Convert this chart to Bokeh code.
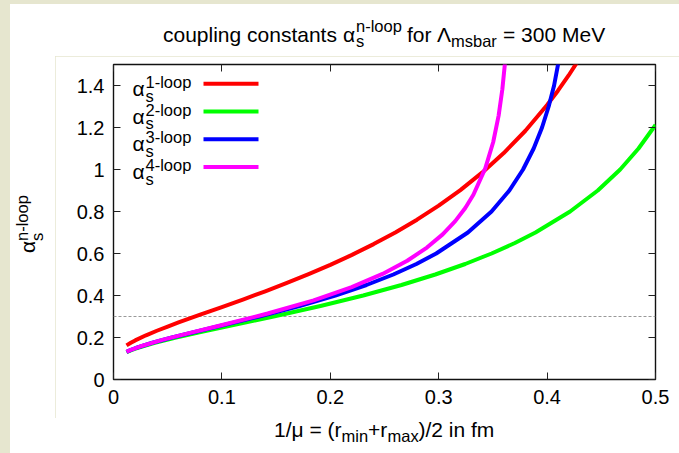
import math
from bokeh.plotting import figure
from bokeh.layouts import column, row
from bokeh.models import Range1d, Label, BoxAnnotation, Span, LinearAxis, FixedTicker, Div
from bokeh.embed import file_html
from bokeh.resources import INLINE

# ---------------- data ----------------
r_1loop = [0.012, 0.016, 0.02, 0.03, 0.04, 0.05, 0.06, 0.08, 0.10, 0.12, 0.14, 0.16, 0.18,
           0.20, 0.22, 0.24, 0.26, 0.28, 0.30, 0.32, 0.34, 0.36, 0.38, 0.40, 0.41, 0.42, 0.43]
alpha_1loop = [0.1623, 0.1749, 0.1861, 0.2105, 0.2321, 0.2522, 0.2715, 0.3085, 0.3451, 0.3820,
               0.4201, 0.4598, 0.5016, 0.5460, 0.5935, 0.6447, 0.7004, 0.7611, 0.8279, 0.9020,
               0.9850, 1.0783, 1.1846, 1.3068, 1.3751, 1.4490, 1.5292]

r_2loop = [0.012, 0.016365, 0.021727, 0.038111, 0.05771, 0.07937, 0.10203, 0.14766, 0.19092,
           0.23037, 0.26566, 0.29688, 0.32446, 0.34878, 0.37027, 0.38929, 0.42124, 0.44676,
           0.46742, 0.48434, 0.49831, 0.5]
alpha_2loop = [0.1305, 0.14, 0.15, 0.175, 0.2, 0.225, 0.25, 0.3, 0.35, 0.4, 0.45, 0.5, 0.55,
               0.6, 0.65, 0.7, 0.8, 0.9, 1.0, 1.1, 1.2, 1.213]

r_3loop = [0.012, 0.015586, 0.020626, 0.035909, 0.053971, 0.094066, 0.13433, 0.17156, 0.20461,
           0.23334, 0.25814, 0.27944, 0.29770, 0.32692, 0.34874, 0.36519, 0.37780, 0.38761,
           0.39533, 0.40145, 0.40644, 0.41374]
alpha_3loop = [0.1317, 0.14, 0.15, 0.175, 0.2, 0.25, 0.3, 0.35, 0.4, 0.45, 0.5, 0.55, 0.6, 0.7,
               0.8, 0.9, 1.0, 1.1, 1.2, 1.3, 1.4, 1.6]

r_4loop = [0.012, 0.014693, 0.024448, 0.044992, 0.068795, 0.09381, 0.14221, 0.18461, 0.21976,
           0.24819, 0.27099, 0.28915, 0.30366, 0.31524, 0.32453, 0.33200, 0.34297, 0.35030,
           0.35528, 0.35872, 0.36116, 0.36292]
alpha_4loop = [0.1318, 0.1382, 0.1571, 0.1885, 0.2199, 0.2513, 0.3142, 0.3770, 0.4398, 0.5027,
               0.5655, 0.6283, 0.6912, 0.7540, 0.8168, 0.8796, 1.0053, 1.1310, 1.2566, 1.3823,
               1.5080, 1.6336]

series_r = [r_1loop, r_2loop, r_3loop, r_4loop]
series_alpha = [alpha_1loop, alpha_2loop, alpha_3loop, alpha_4loop]
legend_labels = ["1-loop", "2-loop", "3-loop", "4-loop"]
series_colors = ["#ff0000", "#00ff00", "#0000ff", "#ff00ff"]

x_ticks = [0, 0.1, 0.2, 0.3, 0.4, 0.5]
x_tick_labels = ["0", "0.1", "0.2", "0.3", "0.4", "0.5"]
y_ticks = [0, 0.2, 0.4, 0.6, 0.8, 1, 1.2, 1.4]
y_tick_labels = ["0", "0.2", "0.4", "0.6", "0.8", "1", "1.2", "1.4"]
reference_alpha = 0.3
x_min, x_max = 0, 0.5
y_min, y_max = 0, 1.5

# ---------------- layout (page pixels) ----------------
PAGE_W, PAGE_H = 679, 453
OFF_X, OFF_Y = 10, 4                 # white panel offset inside the beige page
FL, FR, FT, FB = 113, 655, 64, 379   # frame edges in page pixels
TITLE_BOTTOM = 56                    # title strip: y 4..56
XLAB_TOP = 418                       # x-label strip: y 418..453
YLAB_RIGHT = 55                      # y-label strip: x 10..55
FONT = "Liberation Sans"
BEIGE = "#e6e6cf"
MS, SS = 21, 16.5                    # main / script font sizes
ASC = 0.8465                         # baseline offset for line-height 1em
NOM = (0, 0, 0, 0)

p = figure(width=PAGE_W - YLAB_RIGHT, height=XLAB_TOP - TITLE_BOTTOM,
           output_backend="svg", toolbar_location=None,
           x_range=Range1d(x_min, x_max), y_range=Range1d(y_min, y_max),
           min_border_left=FL - YLAB_RIGHT, min_border_right=PAGE_W - FR,
           min_border_top=FT - TITLE_BOTTOM, min_border_bottom=XLAB_TOP - FB)
p.margin = NOM
p.xgrid.visible = False
p.ygrid.visible = False
p.background_fill_color = "white"
p.border_fill_color = "white"
p.outline_line_color = "#111111"
p.outline_line_width = 1.4

p.xaxis.ticker = FixedTicker(ticks=x_ticks)
p.yaxis.ticker = FixedTicker(ticks=y_ticks)
p.xaxis.major_label_overrides = dict(zip(x_ticks, x_tick_labels))
p.yaxis.major_label_overrides = dict(zip(y_ticks, y_tick_labels))
for ax in (p.xaxis[0], p.yaxis[0]):
    ax.axis_line_color = None
    ax.major_tick_in = 7
    ax.major_tick_out = 0
    ax.major_tick_line_color = "#222222"
    ax.minor_tick_line_color = None
    ax.major_label_text_font = FONT
    ax.major_label_text_font_size = "20px"
    ax.major_label_text_color = "black"
p.yaxis.major_label_standoff = 9
p.xaxis.major_label_standoff = 10

top_axis = LinearAxis(ticker=FixedTicker(ticks=x_ticks),
                      major_label_overrides={t: "" for t in x_ticks},
                      major_label_text_font_size="0px",
                      axis_line_color=None, major_tick_in=7, major_tick_out=0,
                      major_tick_line_color="#222222", minor_tick_line_color=None,
                      major_label_standoff=0)
right_axis = LinearAxis(ticker=FixedTicker(ticks=y_ticks),
                        major_label_overrides={t: "" for t in y_ticks},
                        major_label_text_font_size="0px",
                        axis_line_color=None, major_tick_in=7, major_tick_out=0,
                        major_tick_line_color="#222222", minor_tick_line_color=None,
                        major_label_standoff=0)
p.add_layout(top_axis, "above")
p.add_layout(right_axis, "right")

p.add_layout(Span(location=reference_alpha, dimension="width", line_color="#999999",
                  line_width=1, line_dash="3 2", level="underlay"))

for r, a, c in zip(series_r, series_alpha, series_colors):
    p.line(r, a, line_color=c, line_width=4, line_join="round")

# legend (inside the frame, label left / line sample right)
def in_lab(text, px, py, size):
    p.add_layout(Label(x=px - FL, y=FB - py, x_units="screen", y_units="screen", text=text,
                       text_font=FONT, text_font_size=f"{size}px", text_color="black",
                       text_align="left", text_baseline="alphabetic"))

for k, (name, c) in enumerate(zip(legend_labels, series_colors)):
    dy = 27.7 * k
    in_lab("α", 132, 88 + dy, MS)
    in_lab(name, 145, 81.5 + dy, SS)
    in_lab("s", 145, 95 + dy, SS)
    p.add_layout(BoxAnnotation(left=203 - FL, right=258 - FL,
                               top=FB - (81.3 + dy), bottom=FB - (85.3 + dy),
                               left_units="screen", right_units="screen",
                               top_units="screen", bottom_units="screen",
                               fill_color=c, fill_alpha=1, line_color=None))

# ---------------- texts outside the frame (HTML strips) ----------------
def span(text, left, baseline, fs, rotate=False):
    if rotate:
        # rotated 90deg counter-clockwise; (left = baseline x, baseline = start y)
        x = left - ASC * fs
        return (f'<span style="position:absolute;left:{x:.1f}px;top:{baseline:.1f}px;'
                f'font-size:{fs}px;line-height:{fs}px;white-space:nowrap;'
                f'transform-origin:0 0;transform:rotate(-90deg);">{text}</span>')
    top = baseline - ASC * fs
    return (f'<span style="position:absolute;left:{left:.1f}px;top:{top:.1f}px;'
            f'font-size:{fs}px;line-height:{fs}px;white-space:nowrap;">{text}</span>')

def strip(x0, y0, x1, y1, pieces, rotate=False):
    inner = "".join(span(t, px - x0, py - y0, fs, rotate) for t, px, py, fs in pieces)
    html = (f'<div style="position:relative;width:{x1 - x0}px;height:{y1 - y0}px;'
            f"font-family:'{FONT}',Arial,sans-serif;color:black;\">{inner}</div>")
    return Div(text=html, width=x1 - x0, height=y1 - y0, margin=NOM,
               styles={"background-color": "white", "overflow": "visible"})

title_div = strip(OFF_X, OFF_Y, PAGE_W, TITLE_BOTTOM, [
    ("coupling constants", 163, 42, MS),
    ("α", 343, 42, MS),
    ("n-loop", 356, 32, SS),
    ("s", 356, 47, SS),
    ("for", 407, 42, MS),
    ("Λ", 437, 42, MS),
    ("msbar", 451, 47, SS),
    ("= 300 MeV", 503, 42, MS),
])
xlabel_div = strip(OFF_X, XLAB_TOP, PAGE_W, PAGE_H, [
    ("1/μ = (r", 274, 437, MS),
    ("min", 341.5, 442, SS),
    ("+r", 368, 437, MS),
    ("max", 387.5, 442, SS),
    (")/2 in fm", 418.5, 437, MS),
])
ylabel_div = strip(OFF_X, TITLE_BOTTOM, YLAB_RIGHT, XLAB_TOP, [
    ("α", 35, 253, MS),
    ("n-loop", 28, 241, SS),
    ("s", 43, 241, SS),
], rotate=True)

mid = row(ylabel_div, p, spacing=0, margin=NOM)
inner = column(title_div, mid, xlabel_div, spacing=0, margin=(OFF_Y, 0, 0, OFF_X))
root = column(inner, spacing=0, margin=NOM, styles={"background-color": BEIGE})
open("out.html", "w", encoding="utf-8").write(file_html(root, INLINE))
